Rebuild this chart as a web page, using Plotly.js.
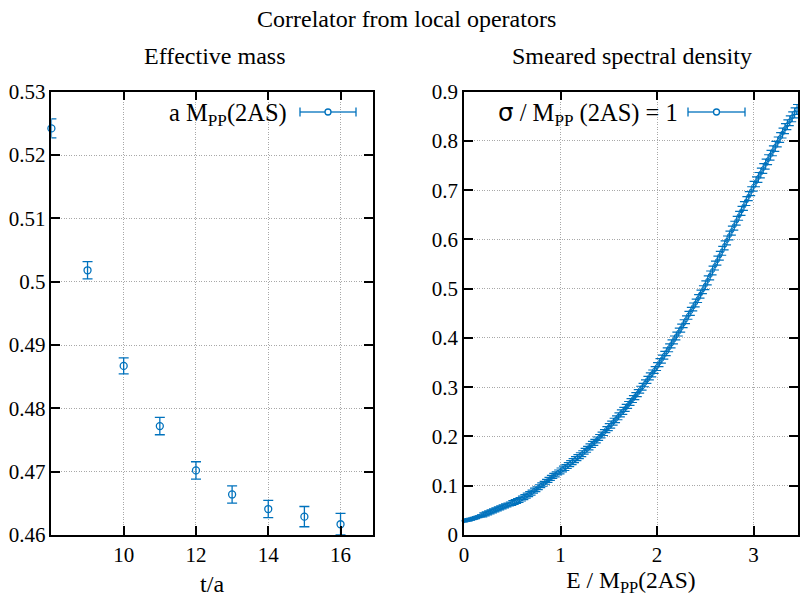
<!DOCTYPE html>
<html>
<head>
<meta charset="utf-8">
<script src="https://cdn.plot.ly/plotly-3.0.1.min.js"></script>
</head>
<body style="margin:0">
<div id="chart" style="width:802px;height:597px"></div>
<script>
// ---- Effective mass (left panel) ----
const tOverA = [8, 9, 10, 11, 12, 13, 14, 15, 16];
const effMass = [0.5242, 0.5018, 0.4867, 0.4772, 0.4702, 0.4664, 0.4641, 0.4629, 0.4617];
const effMassErr = [0.0015, 0.00137, 0.00126, 0.00137, 0.00137, 0.00137, 0.00137, 0.0016, 0.0017];

// ---- Smeared spectral density (right panel) ----
const energy = [
0.000,0.025,0.050,0.075,0.100,0.125,0.150,0.175,0.200,0.225,0.250,0.275,0.300,0.325,0.350,0.375,0.400,0.425,0.450,0.475,
0.500,0.525,0.550,0.575,0.600,0.625,0.650,0.675,0.700,0.725,0.750,0.775,0.800,0.825,0.850,0.875,0.900,0.925,0.950,0.975,
1.000,1.025,1.050,1.075,1.100,1.125,1.150,1.175,1.200,1.225,1.250,1.275,1.300,1.325,1.350,1.375,1.400,1.425,1.450,1.475,
1.500,1.525,1.550,1.575,1.600,1.625,1.650,1.675,1.700,1.725,1.750,1.775,1.800,1.825,1.850,1.875,1.900,1.925,1.950,1.975,
2.000,2.025,2.050,2.075,2.100,2.125,2.150,2.175,2.200,2.225,2.250,2.275,2.300,2.325,2.350,2.375,2.400,2.425,2.450,2.475,
2.500,2.525,2.550,2.575,2.600,2.625,2.650,2.675,2.700,2.725,2.750,2.775,2.800,2.825,2.850,2.875,2.900,2.925,2.950,2.975,
3.000,3.025,3.050,3.075,3.100,3.125,3.150,3.175,3.200,3.225,3.250,3.275,3.300,3.325,3.350,3.375,3.400,3.425,3.450];
const density = [
0.029,0.030,0.031,0.032,0.034,0.035,0.037,0.039,0.041,0.043,0.045,0.047,0.049,0.051,0.053,0.055,0.057,0.059,0.061,0.063,
0.065,0.067,0.069,0.071,0.074,0.077,0.080,0.083,0.086,0.090,0.093,0.097,0.101,0.104,0.108,0.112,0.116,0.120,0.123,0.127,
0.130,0.134,0.137,0.141,0.145,0.149,0.153,0.157,0.161,0.165,0.170,0.174,0.179,0.184,0.188,0.193,0.198,0.203,0.208,0.214,
0.219,0.224,0.230,0.235,0.241,0.247,0.252,0.258,0.264,0.270,0.276,0.282,0.288,0.295,0.301,0.308,0.315,0.322,0.328,0.335,
0.342,0.350,0.357,0.365,0.372,0.380,0.388,0.396,0.404,0.412,0.420,0.429,0.437,0.446,0.454,0.463,0.471,0.480,0.489,0.498,
0.507,0.517,0.527,0.537,0.547,0.557,0.567,0.577,0.588,0.598,0.608,0.618,0.628,0.638,0.648,0.658,0.668,0.678,0.688,0.698,
0.708,0.717,0.726,0.735,0.744,0.753,0.762,0.771,0.780,0.789,0.798,0.807,0.816,0.825,0.833,0.841,0.849,0.857,0.864];
const densityErr = [
0.002,0.002,0.002,0.002,0.002,0.002,0.002,0.002,0.004,0.004,0.004,0.004,0.004,0.004,0.004,0.004,0.004,0.004,0.004,0.004,
0.005,0.005,0.005,0.005,0.005,0.005,0.005,0.005,0.005,0.005,0.005,0.005,0.005,0.005,0.005,0.005,0.005,0.005,0.005,0.005,
0.006,0.006,0.006,0.006,0.006,0.006,0.006,0.006,0.006,0.006,0.006,0.006,0.006,0.006,0.006,0.006,0.006,0.006,0.006,0.006,
0.007,0.007,0.007,0.007,0.007,0.007,0.007,0.007,0.007,0.007,0.007,0.007,0.007,0.007,0.007,0.007,0.007,0.007,0.007,0.007,
0.008,0.008,0.008,0.008,0.008,0.008,0.008,0.008,0.008,0.008,0.008,0.008,0.008,0.008,0.008,0.008,0.008,0.008,0.008,0.008,
0.009,0.009,0.009,0.009,0.009,0.009,0.009,0.009,0.009,0.009,0.009,0.009,0.009,0.009,0.009,0.009,0.009,0.009,0.009,0.009,
0.010,0.010,0.010,0.010,0.010,0.010,0.010,0.010,0.010,0.010,0.010,0.010,0.010,0.010,0.010,0.010,0.010,0.010,0.010];

// ---- tick labels ----
const leftXTicks = [10, 12, 14, 16];
const leftYTicks = [0.46, 0.47, 0.48, 0.49, 0.50, 0.51, 0.52, 0.53];
const leftYTickText = ['0.46', '0.47', '0.48', '0.49', '0.5', '0.51', '0.52', '0.53'];
const rightXTicks = [0, 1, 2, 3];
const rightYTicks = [0, 0.1, 0.2, 0.3, 0.4, 0.5, 0.6, 0.7, 0.8, 0.9];
const rightYTickText = ['0', '0.1', '0.2', '0.3', '0.4', '0.5', '0.6', '0.7', '0.8', '0.9'];

const BLUE = '#0072bd';
const SERIF = 'Liberation Serif';
const W = 802, H = 597;
const px = v => v / W;
const py = v => (H - v) / H;

const traces = [
  {
    x: tOverA, y: effMass, xaxis: 'x', yaxis: 'y', type: 'scatter', mode: 'markers',
    marker: {symbol: 'circle-open', size: 7, color: BLUE, line: {width: 1.3, color: BLUE}},
    error_y: {type: 'data', array: effMassErr, visible: true, color: BLUE, thickness: 1.3, width: 5},
    cliponaxis: false, showlegend: false
  },
  {
    x: energy, y: density, xaxis: 'x2', yaxis: 'y2', type: 'scatter', mode: 'markers',
    marker: {symbol: 'circle-open', size: 4, color: BLUE, line: {width: 1, color: BLUE}},
    error_y: {type: 'data', array: densityErr, visible: true, color: BLUE, thickness: 1.2, width: 4},
    cliponaxis: false, showlegend: false
  }
];

function axisCommon() {
  return {
    showline: true, linecolor: '#000', linewidth: 1.5, mirror: 'ticks',
    ticks: 'inside', ticklen: 9, tickwidth: 1.5, tickcolor: '#000',
    showgrid: true, gridcolor: '#a8a8a8', griddash: '1px,1.5px', gridwidth: 1,
    zeroline: false, tickfont: {family: SERIF, size: 21, color: '#000'},
    fixedrange: true
  };
}

const yDom = [py(535), py(91.7)];

const layout = {
  width: W, height: H,
  margin: {l: 0, r: 0, t: 0, b: 0},
  paper_bgcolor: '#fff', plot_bgcolor: '#fff',
  showlegend: false,
  xaxis: Object.assign(axisCommon(), {
    domain: [px(51.4), px(372.7)], range: [8, 16.89],
    tickmode: 'array', tickvals: leftXTicks, anchor: 'y',
    title: {text: 't/a', font: {family: SERIF, size: 24, color: '#000'}}
  }),
  yaxis: Object.assign(axisCommon(), {
    domain: yDom, range: [0.46, 0.53],
    tickmode: 'array', tickvals: leftYTicks, ticktext: leftYTickText, anchor: 'x'
  }),
  xaxis2: Object.assign(axisCommon(), {
    domain: [px(464), px(798)], range: [0, 3.46],
    tickmode: 'array', tickvals: rightXTicks, anchor: 'y2',
    title: {text: 'E / M<sub>PP</sub>(2AS)', font: {family: SERIF, size: 23.5, color: '#000'}}
  }),
  yaxis2: Object.assign(axisCommon(), {
    domain: yDom, range: [0, 0.9],
    tickmode: 'array', tickvals: rightYTicks, ticktext: rightYTickText, anchor: 'x2'
  }),
  annotations: [
    {text: 'Correlator from local operators', xref: 'paper', yref: 'paper', x: px(406), y: py(19),
     xanchor: 'center', yanchor: 'middle', showarrow: false, font: {family: SERIF, size: 24, color: '#000'}},
    {text: 'Effective mass', xref: 'paper', yref: 'paper', x: px(215), y: py(56),
     xanchor: 'center', yanchor: 'middle', showarrow: false, font: {family: SERIF, size: 24, color: '#000'}},
    {text: 'Smeared spectral density', xref: 'paper', yref: 'paper', x: px(632), y: py(56),
     xanchor: 'center', yanchor: 'middle', showarrow: false, font: {family: SERIF, size: 24, color: '#000'}},
    {text: 'a M<sub>PP</sub>(2AS)', xref: 'paper', yref: 'paper', x: px(289), y: py(114),
     xanchor: 'right', yanchor: 'middle', showarrow: false, font: {family: SERIF, size: 24.5, color: '#000'}},
    {text: '<span style="font-family:DejaVu Sans">σ</span> / M<sub>PP</sub> (2AS) = 1', xref: 'paper', yref: 'paper', x: px(680), y: py(114),
     xanchor: 'right', yanchor: 'middle', showarrow: false, font: {family: SERIF, size: 24.5, color: '#000'}}
  ],
  shapes: []
};

// legend samples (error bar glyph with circle), drawn in paper space
function legendSample(x0, x1, yc) {
  const xc = (x0 + x1) / 2;
  const s = {xref: 'paper', yref: 'paper', line: {color: BLUE, width: 1.3}};
  return [
    Object.assign({type: 'line', x0: px(x0), x1: px(xc - 3), y0: py(yc), y1: py(yc)}, s),
    Object.assign({type: 'line', x0: px(xc + 3), x1: px(x1), y0: py(yc), y1: py(yc)}, s),
    Object.assign({type: 'line', x0: px(x0), x1: px(x0), y0: py(yc - 4.5), y1: py(yc + 4.5)}, s),
    Object.assign({type: 'line', x0: px(x1), x1: px(x1), y0: py(yc - 4.5), y1: py(yc + 4.5)}, s),
    Object.assign({type: 'circle', x0: px(xc - 3), x1: px(xc + 3), y0: py(yc - 3), y1: py(yc + 3)}, s)
  ];
}
layout.shapes = layout.shapes.concat(legendSample(300, 356, 112), legendSample(688, 745, 112));

Plotly.newPlot('chart', traces, layout, {displayModeBar: false});
</script>
</body>
</html>
